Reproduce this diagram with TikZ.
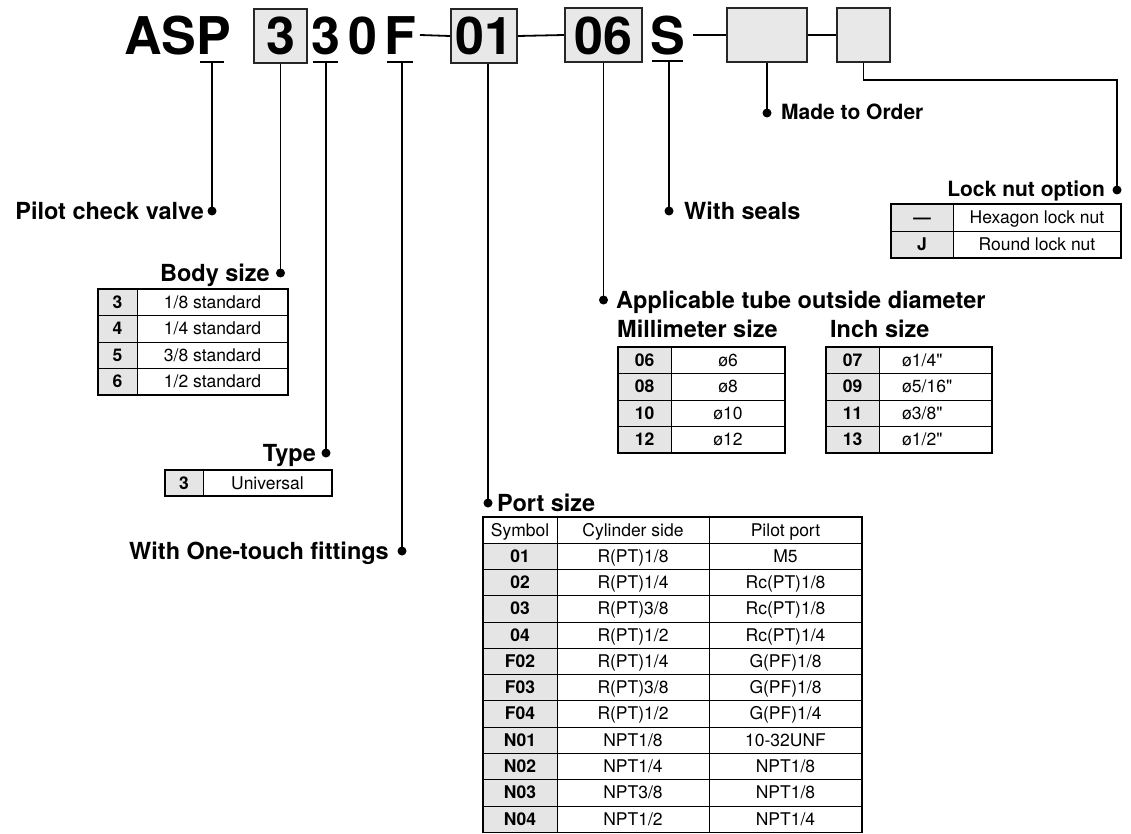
\documentclass[tikz,border=0pt]{standalone}
\usepackage{fontspec}
\setmainfont{TeX Gyre Heros}
\newfontfamily\rawheros{TeX Gyre Heros}[Ligatures=TeXOff]
\newcommand{\inchmark}{{\rawheros"}}
\newcommand{\tabrow}[6]{\node[bcell] (#1c) at (#3,#2+6) {#4}; \node[cell] (#1v) at (#5,#2+6) {#6};}
\newcommand{\tabrowl}[6]{\node[bcell] (#1c) at (#3,#2+6) {#4}; \node[cell,anchor=base west] (#1v) at (#5,#2+6) {#6};}
\newcommand{\portrow}[5]{\node[bcell] (#1s) at (520,#2+6) {#3}; \node[cell] (#1c) at (633,#2+6) {#4}; \node[cell] (#1p) at (785.5,#2+6) {#5};}
\begin{document}
\begin{tikzpicture}[x=1pt,y=-1pt,
  code/.style={font=\fontsize{52}{60}\selectfont\bfseries, inner sep=0pt, anchor=base},
  codebox/.style={draw=black!85, fill=black!9, line width=1.8pt, inner sep=0pt, minimum height=54pt},
  lead/.style={line width=1.8pt},
  lbl/.style={font=\fontsize{23.5}{28}\selectfont\bfseries, inner sep=0pt},
  slbl/.style={font=\fontsize{21}{25}\selectfont\bfseries, inner sep=0pt},
  ldot/.style={circle, fill=black, inner sep=0pt, minimum size=9pt},
  cell/.style={font=\fontsize{17.5}{20}\selectfont, inner sep=0pt, anchor=base},
  bcell/.style={font=\fontsize{17.5}{20}\selectfont\bfseries, inner sep=0pt, anchor=base},
  tabfill/.style={fill=black!10},
  tabout/.style={draw=black, line width=1.3pt},
  tabin/.style={draw=black, line width=0.7pt}
]
\useasboundingbox (0,0) rectangle (1131,834);

% ---------- code line ----------
\node[code, anchor=base west] (asp) at (124,55) {ASP};
\node[codebox, minimum width=53pt] (b3) at (280.5,36) {};
\node[code] (t3) at (280.5,55) {3};
\node[code] (c3) at (325.5,55) {3};
\node[code] (c0) at (363,55) {0};
\node[code] (cF) at (400,55) {F};
\node[codebox, minimum width=66pt] (b01) at (484,36) {};
\node[code] (t01) at (484,55) {01};
\node[codebox, minimum width=77pt] (b06) at (603.5,35) {};
\node[code] (t06) at (603.5,55) {06};
\node[code] (cS) at (667.5,55) {S};
\node[codebox, minimum width=80pt] (bm) at (767,35) {};
\node[codebox, minimum width=53pt] (bl) at (863.5,35) {};

% underlines
\draw[lead] (200,62) -- (224,62);
\draw[lead] (313,62) -- (338,62);
\draw[lead] (387,62) -- (413,62);
\draw[lead] (652,61) -- (683,61);

% dashes
\coordinate (dF) at (420,35);
\coordinate (dS) at (693,35);
\draw[lead] (dF) -- (b01.west);
\draw[lead] (b01.east) -- (b06.west);
\draw[lead] (dS) -- (bm.west);
\draw[lead] (bm.east) -- (bl.west);

% ---------- leaders and dots ----------
\coordinate (uP) at (212,62);
\coordinate (u3) at (326,62);
\coordinate (uF) at (402,62);
\coordinate (uS) at (669,61);
\node[ldot] (dP) at (212,211) {};
\node[ldot] (dB) at (280.5,273) {};
\node[ldot] (dT) at (326,453) {};
\node[ldot] (dF2) at (402,551) {};
\node[ldot] (dPS) at (488,503) {};
\node[ldot] (dA) at (603.5,300) {};
\node[ldot] (dS2) at (669,211) {};
\node[ldot] (dM) at (767,113) {};
\node[ldot] (dL) at (1117,190) {};
\coordinate (kL1) at (863.5,80);
\coordinate (kL2) at (1117,80);

\draw[lead] (uP) -- (dP.center);
\draw[lead] (b3.south) -- (dB.center);
\draw[lead] (u3) -- (dT.center);
\draw[lead] (uF) -- (dF2.center);
\draw[lead] (b01.south -| dPS) -- (dPS.center);
\draw[lead] (b06.south) -- (dA.center);
\draw[lead] (uS) -- (dS2.center);
\draw[lead] (bm.south) -- (dM.center);
\draw[lead] (bl.south) -- (kL1) -- (kL2) -- (dL.center);

% ---------- labels ----------
\node[lbl, anchor=base east] (lP) at (204,219) {Pilot check valve};
\node[lbl, anchor=base east] (lB) at (270,281) {Body size};
\node[lbl, anchor=base east] (lT) at (316,461) {Type};
\node[lbl, anchor=base east] (lF) at (389,559) {With One-touch fittings};
\node[lbl, anchor=base west] (lPS) at (497,511) {Port size};
\node[lbl, anchor=base west] (lA) at (616,308) {Applicable tube outside diameter};
\node[lbl, anchor=base west] (lMm) at (617,337) {Millimeter size};
\node[lbl, anchor=base west] (lIn) at (830,337) {Inch size};
\node[lbl, anchor=base west] (lS) at (684,219) {With seals};
\node[slbl, anchor=base west] (lM) at (781,120) {Made to Order};
\node[slbl, anchor=base east] (lL) at (1105,197) {Lock nut option};

% ---------- Body size table ----------
\fill[tabfill] (98,289) rectangle (137,395);
\draw[tabin] (98,315.5) -- (288,315.5) (98,342) -- (288,342) (98,368.5) -- (288,368.5) (137,289) -- (137,395);
\draw[tabout] (98,289) rectangle (288,395);
\tabrow{bs1}{302.25}{117.5}{3}{212.5}{1/8 standard}
\tabrow{bs2}{328.75}{117.5}{4}{212.5}{1/4 standard}
\tabrow{bs3}{355.25}{117.5}{5}{212.5}{3/8 standard}
\tabrow{bs4}{381.75}{117.5}{6}{212.5}{1/2 standard}

% ---------- Type table ----------
\fill[tabfill] (165,470) rectangle (203,496);
\draw[tabin] (203,470) -- (203,496);
\draw[tabout] (165,470) rectangle (332,496);
\tabrow{ty1}{483}{184}{3}{267.5}{Universal}

% ---------- Millimeter table ----------
\fill[tabfill] (618,347) rectangle (671,453);
\draw[tabin] (618,373.5) -- (785,373.5) (618,400) -- (785,400) (618,426.5) -- (785,426.5) (671,347) -- (671,453);
\draw[tabout] (618,347) rectangle (785,453);
\tabrow{mm1}{360.25}{644.5}{06}{728}{ø6}
\tabrow{mm2}{386.75}{644.5}{08}{728}{ø8}
\tabrow{mm3}{413.25}{644.5}{10}{728}{ø10}
\tabrow{mm4}{439.75}{644.5}{12}{728}{ø12}

% ---------- Inch table ----------
\fill[tabfill] (826,347) rectangle (879,453);
\draw[tabin] (826,373.5) -- (992,373.5) (826,400) -- (992,400) (826,426.5) -- (992,426.5) (879,347) -- (879,453);
\draw[tabout] (826,347) rectangle (992,453);
\tabrowl{in1}{360.25}{852.5}{07}{902}{ø1/4\inchmark}
\tabrowl{in2}{386.75}{852.5}{09}{902}{ø5/16\inchmark}
\tabrowl{in3}{413.25}{852.5}{11}{902}{ø3/8\inchmark}
\tabrowl{in4}{439.75}{852.5}{13}{902}{ø1/2\inchmark}

% ---------- Lock nut table ----------
\fill[tabfill] (891,204) rectangle (953,258);
\draw[tabin] (891,231) -- (1121,231) (953,204) -- (953,258);
\draw[tabout] (891,204) rectangle (1121,258);
\tabrow{ln1}{217.5}{922}{---}{1037}{Hexagon lock nut}
\tabrow{ln2}{244.5}{922}{J}{1037}{Round lock nut}

% ---------- Port size table ----------
\fill[tabfill] (483,543) rectangle (557,832.3);
\draw[tabin] (483,543) -- (862,543);
\foreach \k in {1,...,10} \draw[tabin] (483,543+26.3*\k) -- (862,543+26.3*\k);
\draw[tabin] (557,517) -- (557,832.3) (709,517) -- (709,832.3);
\draw[tabout] (483,517) rectangle (862,832.3);
\node[cell] (hS) at (520,536) {Symbol};
\node[cell] (hC) at (633,536) {Cylinder side};
\node[cell] (hP) at (785.5,536) {Pilot port};
\portrow{p1}{556.15}{01}{R(PT)1/8}{M5}
\portrow{p2}{582.45}{02}{R(PT)1/4}{Rc(PT)1/8}
\portrow{p3}{608.75}{03}{R(PT)3/8}{Rc(PT)1/8}
\portrow{p4}{635.05}{04}{R(PT)1/2}{Rc(PT)1/4}
\portrow{p5}{661.35}{F02}{R(PT)1/4}{G(PF)1/8}
\portrow{p6}{687.65}{F03}{R(PT)3/8}{G(PF)1/8}
\portrow{p7}{713.95}{F04}{R(PT)1/2}{G(PF)1/4}
\portrow{p8}{740.25}{N01}{NPT1/8}{10-32UNF}
\portrow{p9}{766.55}{N02}{NPT1/4}{NPT1/8}
\portrow{p10}{792.85}{N03}{NPT3/8}{NPT1/8}
\portrow{p11}{819.15}{N04}{NPT1/2}{NPT1/4}
\end{tikzpicture}
\end{document}
